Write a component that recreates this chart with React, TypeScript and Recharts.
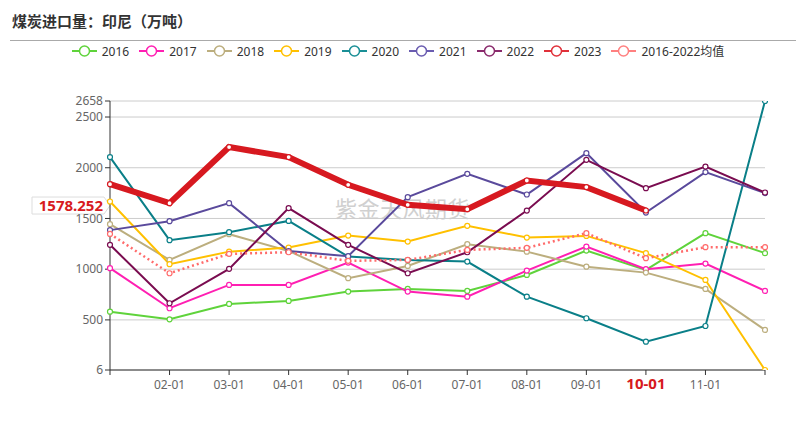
import React from 'react';
import { LineChart, Line, XAxis, YAxis, CartesianGrid, ReferenceLine, Legend } from 'recharts';

const months = ['01-01', '02-01', '03-01', '04-01', '05-01', '06-01', '07-01', '08-01', '09-01', '10-01', '11-01', '12-01'];

const y2016 = [581, 506, 657, 687, 779, 805, 786, 943, 1183, 993, 1355, 1158];
const y2017 = [1010, 615, 845, 845, 1065, 779, 729, 986, 1223, 1000, 1055, 786];
const y2018 = [1444, 1091, 1345, 1180, 911, 1032, 1246, 1173, 1025, 966, 805, 401];
const y2019 = [1667, 1049, 1173, 1213, 1331, 1272, 1427, 1312, 1328, 1158, 894, 6];
const y2020 = [2105, 1286, 1365, 1476, 1124, 1090, 1075, 729, 516, 285, 440, 2658];
const y2021 = [1385, 1473, 1651, 1178, 1128, 1710, 1940, 1736, 2144, 1558, 1957, 1750];
const y2022 = [1240, 664, 1003, 1602, 1240, 960, 1167, 1578, 2078, 1799, 2012, 1756];
const y2023 = [1838, 1651, 2204, 2105, 1832, 1634, 1592, 1874, 1809, 1578.252];
const avg = [1348, 960, 1151, 1167, 1082, 1091, 1190, 1210, 1355, 1108, 1217, 1217];

const yTicks = [6, 500, 1000, 1500, 2000, 2500, 2658];

const series = [
  { key: 'y2016', name: '2016', color: '#5fd33b', width: 2 },
  { key: 'y2017', name: '2017', color: '#ff1fb2', width: 2 },
  { key: 'y2018', name: '2018', color: '#bcae7e', width: 2 },
  { key: 'y2019', name: '2019', color: '#ffc000', width: 2 },
  { key: 'y2020', name: '2020', color: '#0a7f88', width: 2 },
  { key: 'y2021', name: '2021', color: '#5a4a9c', width: 2 },
  { key: 'y2022', name: '2022', color: '#7a0c50', width: 2 },
  { key: 'y2023', name: '2023', color: '#d71920', width: 6 },
  { key: 'avg', name: '2016-2022均值', color: '#ff6b6b', width: 2.5, dash: '2 3' },
];

const legendColors: Record<string, string> = {
  y2016: '#5fd33b',
  y2017: '#ff1fb2',
  y2018: '#bcae7e',
  y2019: '#ffc000',
  y2020: '#1a8f96',
  y2021: '#6a5cb0',
  y2022: '#8a2a6c',
  y2023: '#e0313a',
  avg: '#ff8080',
};

const data = months.map((m, i) => ({
  month: m,
  y2016: y2016[i],
  y2017: y2017[i],
  y2018: y2018[i],
  y2019: y2019[i],
  y2020: y2020[i],
  y2021: y2021[i],
  y2022: y2022[i],
  y2023: i < y2023.length ? y2023[i] : null,
  avg: avg[i],
}));

const font = '"Noto Sans", "Noto Sans CJK SC", sans-serif';

function XTick(props: any) {
  const { x, y, payload } = props;
  const v = payload.value;
  if (v === '01-01' || v === '12-01') return null;
  const hot = v === '10-01';
  return (
    <text
      x={x}
      y={y + 12}
      textAnchor="middle"
      fill={hot ? '#d71920' : '#666'}
      fontSize={hot ? 15 : 12}
      fontWeight={hot ? 700 : 400}
      fontFamily={font}
    >
      {v}
    </text>
  );
}

function PointerLabel(props: any) {
  const vb = props.viewBox || {};
  const cy = vb.y - 5;
  const left = 32;
  const right = 104;
  const tip = 110;
  const h = 17;
  return (
    <g>
      <path
        d={`M${left},${cy - h / 2} L${right},${cy - h / 2} L${tip},${cy} L${right},${cy + h / 2} L${left},${cy + h / 2} Z`}
        fill="#fff"
        stroke="#ddd"
        strokeWidth={1}
      />
      <text x={right - 1} y={cy + 5} textAnchor="end" fill="#d71920" fontSize={15} fontWeight={700} fontFamily={font}>
        1578.252
      </text>
    </g>
  );
}

function LegendBox() {
  return (
    <div style={{ display: 'flex', justifyContent: 'center', fontFamily: font, fontSize: 12, color: '#333' }}>
      {series.map((s) => (
        <div key={s.key} style={{ display: 'flex', alignItems: 'center', marginRight: 10 }}>
          <svg width={25} height={14} style={{ marginRight: 5 }}>
            <line x1={0} y1={7} x2={25} y2={7} stroke={legendColors[s.key]} strokeWidth={2} />
            <circle cx={12.5} cy={7} r={5} fill="#fff" stroke={legendColors[s.key]} strokeWidth={1.5} />
          </svg>
          <span>{s.name}</span>
        </div>
      ))}
    </div>
  );
}

export default function App() {
  return (
    <div style={{ position: 'absolute', left: 0, top: 0, width: 806, height: 430, background: '#fff', overflow: 'hidden' }}>
      <div
        style={{
          position: 'absolute',
          left: 12,
          top: 10,
          fontFamily: '"Noto Sans CJK SC", sans-serif',
          fontWeight: 700,
          fontSize: 15,
          color: '#333',
        }}
      >
        煤炭进口量：印尼（万吨）
      </div>
      <div style={{ position: 'absolute', left: 10, top: 40, width: 786, height: 1, background: '#aaa' }} />
      <div style={{ position: 'absolute', left: 0, top: 42, width: 806 }}>
        <LegendBox />
      </div>
      <div
        style={{
          position: 'absolute',
          left: 335,
          top: 191,
          fontFamily: '"Noto Sans CJK SC", sans-serif',
          fontSize: 22,
          color: '#d0d0d0',
          letterSpacing: 0.5,
        }}
      >
        紫金天风期货
      </div>
      <div style={{ position: 'absolute', left: 0, top: 0 }}>
        <LineChart width={806} height={430} data={data} margin={{ top: 101, right: 41, bottom: 30, left: 0 }}>
          <CartesianGrid horizontal vertical={false} stroke="#ccc" />
          <XAxis
            dataKey="month"
            tick={<XTick />}
            tickSize={5}
            height={30}
            interval={0}
            axisLine={{ stroke: '#333' }}
            tickLine={{ stroke: '#333' }}
          />
          <YAxis
            type="number"
            domain={[6, 2658]}
            ticks={yTicks}
            width={110}
            tickSize={5}
            tickMargin={2}
            interval={0}
            allowDataOverflow
            axisLine={{ stroke: '#333' }}
            tickLine={{ stroke: '#333' }}
            tick={{ fill: '#666', fontSize: 12, fontFamily: font }}
          />
          <ReferenceLine y={1578.252} stroke="none" ifOverflow="visible" label={<PointerLabel />} />
          {series.map((s) => (
            <Line
              key={s.key}
              dataKey={s.key}
              name={s.name}
              type="linear"
              stroke={s.color}
              strokeWidth={s.width}
              strokeDasharray={s.dash}
              dot={{ r: 2.5, fill: '#fff', stroke: s.color, strokeWidth: 1.2, strokeDasharray: '' }}
              activeDot={false}
              connectNulls={false}
              isAnimationActive={false}
            />
          ))}
        </LineChart>
      </div>
    </div>
  );
}
